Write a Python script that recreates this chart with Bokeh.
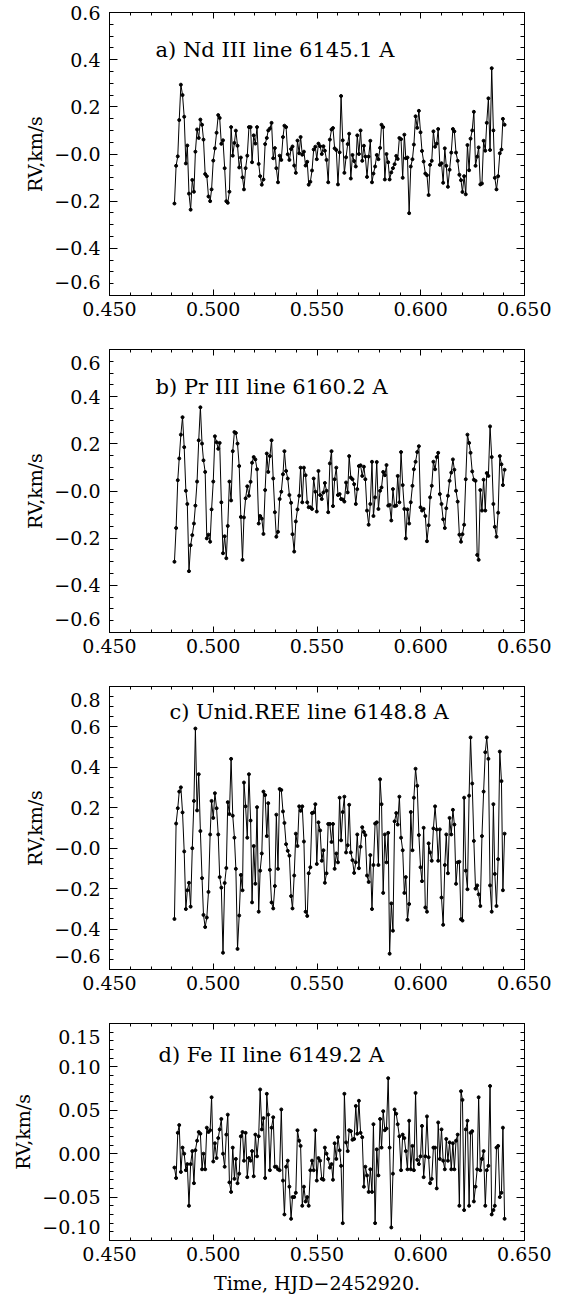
from bokeh.plotting import figure
from bokeh.models import FixedTicker, LinearAxis, CustomJSTickFormatter, Range1d, Label
from bokeh.layouts import column
from bokeh.embed import file_html
from bokeh.resources import INLINE

FONT = "DejaVu Serif"
FS = "19px"

time_hjd = [
    0.4813, 0.4821, 0.4829, 0.4836, 0.4844, 0.4852, 0.4860, 0.4868, 0.4875, 0.4883,
    0.4891, 0.4899, 0.4907, 0.4914, 0.4922, 0.4930, 0.4938, 0.4946, 0.4953, 0.4961,
    0.4969, 0.4977, 0.4985, 0.4992, 0.5000, 0.5008, 0.5016, 0.5024, 0.5031, 0.5039,
    0.5047, 0.5055, 0.5063, 0.5070, 0.5078, 0.5086, 0.5094, 0.5102, 0.5109, 0.5117,
    0.5125, 0.5133, 0.5141, 0.5148, 0.5156, 0.5164, 0.5172, 0.5180, 0.5187, 0.5195,
    0.5203, 0.5211, 0.5219, 0.5226, 0.5234, 0.5242, 0.5250, 0.5258, 0.5265, 0.5273,
    0.5281, 0.5289, 0.5297, 0.5304, 0.5312, 0.5320, 0.5328, 0.5336, 0.5343, 0.5351,
    0.5359, 0.5367, 0.5375, 0.5382, 0.5390, 0.5398, 0.5406, 0.5414, 0.5421, 0.5429,
    0.5437, 0.5445, 0.5453, 0.5460, 0.5468, 0.5476, 0.5484, 0.5492, 0.5499, 0.5507,
    0.5515, 0.5523, 0.5531, 0.5538, 0.5546, 0.5554, 0.5562, 0.5570, 0.5577, 0.5585,
    0.5593, 0.5601, 0.5609, 0.5616, 0.5624, 0.5632, 0.5640, 0.5648, 0.5655, 0.5663,
    0.5671, 0.5679, 0.5687, 0.5694, 0.5702, 0.5710, 0.5718, 0.5726, 0.5733, 0.5741,
    0.5749, 0.5757, 0.5765, 0.5772, 0.5780, 0.5788, 0.5796, 0.5804, 0.5811, 0.5819,
    0.5827, 0.5835, 0.5843, 0.5850, 0.5858, 0.5866, 0.5874, 0.5882, 0.5889, 0.5897,
    0.5905, 0.5913, 0.5921, 0.5928, 0.5936, 0.5944, 0.5952, 0.5960, 0.5967, 0.5975,
    0.5983, 0.5991, 0.5999, 0.6006, 0.6014, 0.6022, 0.6030, 0.6038, 0.6045, 0.6053,
    0.6061, 0.6069, 0.6077, 0.6084, 0.6092, 0.6100, 0.6108, 0.6116, 0.6123, 0.6131,
    0.6139, 0.6147, 0.6155, 0.6162, 0.6170, 0.6178, 0.6186, 0.6194, 0.6201, 0.6209,
    0.6217, 0.6225, 0.6233, 0.6240, 0.6248, 0.6256, 0.6264, 0.6272, 0.6279, 0.6287,
    0.6295, 0.6303, 0.6311, 0.6318, 0.6326, 0.6334, 0.6342, 0.6350, 0.6357, 0.6365,
    0.6373, 0.6381, 0.6389, 0.6396, 0.6404,
]

rv_nd3 = [
    -0.21, -0.05, -0.01, 0.144, 0.294, 0.25, 0.158, -0.04, 0.036, -0.168,
    -0.236, -0.11, -0.16, 0.01, 0.104, 0.068, 0.146, 0.124, 0.061, -0.085,
    -0.094, -0.18, -0.20, -0.15, -0.028, 0.024, 0.09, 0.165, 0.153, 0.043,
    0.058, -0.06, -0.20, -0.207, -0.16, 0.114, -0.007, 0.047, 0.099, 0.035,
    -0.057, -0.015, -0.099, -0.15, -0.06, -0.007, 0.114, 0.114, -0.035, 0.079,
    0.044, 0.114, -0.042, -0.094, -0.13, -0.108, 0.042, 0.068, 0.10, 0.108,
    0.132, -0.018, 0.025, -0.06, -0.12, -0.007, -0.025, 0.072, 0.12, 0.114,
    -0.001, -0.025, 0.021, 0.032, -0.049, -0.08, 0.057, 0.003, 0.072, -0.003,
    0.01, -0.049, -0.033, -0.13, -0.118, -0.07, 0.019, 0.031, -0.022, 0.044,
    0.033, 0.0, 0.033, 0.014, -0.025, -0.12,
    0.061, 0.104, 0.11, 0.024, 0.017, -0.129, 0.007, 0.246, 0.058, -0.08,
    -0.014, 0.042, 0.086, -0.104, -0.004, -0.03, -0.053, 0.079, 0.0, 0.1,
    -0.029, 0.035, -0.011, -0.097, -0.011, 0.056, -0.12, -0.083, -0.053, -0.004,
    -0.022, 0.026, 0.124, 0.114, -0.108, 0.0, -0.035, -0.108, -0.078, -0.06,
    -0.043, -0.008, -0.021, 0.068, 0.063, -0.101, 0.082, -0.018, -0.015, -0.251,
    -0.053, -0.022, 0.04, 0.16, 0.111, 0.183, 0.092, 0.013, -0.032, -0.083,
    -0.09, -0.174, -0.046, -0.029, 0.096, 0.031, 0.044, 0.106, -0.046, -0.039,
    -0.122, 0.024, -0.05, -0.139, -0.067, 0.006, 0.106, 0.096, 0.006, -0.029,
    -0.088, -0.111, -0.161, -0.094, -0.171, 0.038, -0.069, 0.065, 0.1, 0.179,
    -0.05, -0.011, 0.028, -0.129, -0.125, 0.056, 0.014, 0.132, 0.236, 0.017,
    0.364, 0.1, -0.101, -0.15, -0.094, 0.003, 0.019, 0.149, 0.124,
]

rv_pr3 = [
    -0.30, -0.157, 0.046, 0.138, 0.239, 0.313, 0.186, 0.001, -0.055, -0.34,
    -0.23, -0.187, -0.138, -0.062, 0.04, 0.215, 0.355, 0.201, 0.13, 0.081,
    -0.201, -0.185, -0.215, -0.078, 0.04, 0.232, 0.207, 0.179, 0.204, -0.048,
    -0.264, -0.192, -0.285, -0.148, 0.04, -0.04, 0.169, 0.25, 0.246, 0.201,
    0.106, -0.11, -0.292, -0.112, -0.031, 0.02, -0.02, 0.039, 0.12, 0.144,
    0.134, 0.092, -0.138, -0.106, -0.117, -0.182, 0.004, 0.159, 0.081, 0.148,
    0.215, 0.053, -0.09, -0.194, -0.173, -0.034, -0.003, 0.071, 0.169, 0.085,
    0.053, -0.017, -0.05, -0.183, -0.257, -0.129, -0.078, -0.02, 0.099, -0.048,
    0.099, 0.067, -0.048, -0.069, -0.069, -0.076, 0.053, -0.003, -0.087, 0.085,
    -0.017, -0.034, -0.006, 0.034, 0.001, -0.09,
    0.117, 0.169, -0.064, 0.05, 0.099, -0.017, -0.013, -0.034, -0.036, -0.045,
    0.036, -0.006, 0.148, 0.057, 0.05, 0.029, -0.055, 0.008, 0.106, 0.109,
    0.064, 0.103, 0.05, -0.083, -0.143, -0.055, 0.124, -0.106, -0.027, 0.123,
    -0.076, 0.001, 0.015, 0.081, 0.067, 0.11, -0.062, -0.059, -0.125, 0.008,
    -0.064, -0.062, 0.064, -0.048, 0.165, 0.025, -0.076, -0.201, -0.078, -0.138,
    -0.048, 0.022, 0.092, 0.124, 0.165, 0.19, -0.069, -0.083, -0.076, -0.106,
    -0.213, -0.145, -0.027, 0.022, 0.124, 0.092, 0.144, 0.162, -0.013, -0.055,
    -0.12, -0.157, -0.073, -0.02, 0.043, 0.078, 0.134, 0.09, 0.001, -0.045,
    -0.185, -0.215, -0.183, -0.143, 0.05, 0.239, 0.204, 0.162, 0.083, 0.048,
    0.043, -0.271, -0.292, 0.004, -0.083, 0.048, -0.083, 0.076, 0.064, 0.274,
    0.144, -0.055, -0.152, -0.194, -0.092, 0.148, 0.113, 0.025, 0.09,
]

rv_unid = [
    -0.35, 0.122, 0.198, 0.28, 0.301, 0.177, -0.016, -0.301, -0.208, -0.171,
    -0.289, 0.0, 0.234, 0.592, 0.187, 0.366, 0.085, -0.148, -0.33, -0.39,
    -0.343, -0.216, 0.068, 0.234, 0.15, 0.272, 0.198, 0.068, -0.143, -0.195,
    -0.517, -0.172, -0.098, 0.228, 0.169, 0.442, 0.161, 0.052, -0.102, -0.498,
    -0.333, -0.132, -0.208, 0.325, 0.207, 0.052, 0.366, 0.137, -0.268, 0.011,
    -0.176, 0.203, -0.314, -0.111, -0.026, 0.28, 0.263, 0.06, 0.223, -0.107,
    -0.268, -0.298, -0.187, 0.166, -0.102, 0.293, 0.288, 0.182, 0.125, 0.02,
    -0.013, -0.037, -0.237, -0.298, -0.135, 0.072, 0.011, 0.207, 0.185, 0.207,
    0.033, -0.314, -0.335, -0.124, -0.094, 0.174, 0.177, 0.218, -0.078, 0.128,
    0.088, -0.062, -0.01, -0.171, -0.124, 0.12,
    0.12, 0.031, 0.12, -0.102, -0.026, -0.07, 0.25, 0.039, 0.179, 0.255,
    -0.021, 0.015, 0.215, -0.021, -0.059, -0.122, -0.07, 0.068, -0.099, 0.007,
    0.104, 0.08, 0.065, -0.135, -0.167, -0.034, -0.301, -0.083, 0.122, 0.128,
    -0.083, 0.341, 0.218, -0.221, 0.068, -0.07, 0.076, -0.522, -0.273, -0.408,
    0.133, 0.174, 0.117, 0.255, 0.052, -0.01, -0.221, -0.143, -0.354, -0.276,
    0.179, -0.01, 0.25, 0.393, 0.309, 0.065, -0.094, -0.163, 0.101, -0.293,
    -0.314, 0.024, -0.021, -0.062, 0.098, 0.207, 0.093, -0.062, 0.093, -0.244,
    -0.379, -0.083, 0.068, -0.124, 0.15, 0.068, 0.19, 0.117, -0.176, -0.07,
    -0.067, -0.351, -0.358, 0.25, -0.111, -0.203, 0.26, 0.548, 0.32, 0.036,
    -0.2, -0.184, -0.228, -0.286, 0.06, 0.28, 0.475, 0.548, 0.442, -0.184,
    -0.314, 0.218, -0.127, -0.286, -0.054, 0.478, 0.332, -0.208, 0.072,
]

rv_fe2 = [
    -0.016, -0.028, 0.024, 0.033, -0.021, 0.007, 0.0, -0.019, -0.012, -0.06,
    -0.012, 0.003, -0.034, 0.004, 0.015, 0.025, 0.023, -0.018, 0.0, -0.018,
    0.03, 0.025, 0.027, 0.065, -0.009, 0.012, -0.005, 0.018, 0.028, 0.04,
    0.0, -0.015, 0.022, 0.045, -0.033, -0.044, 0.007, -0.029, -0.006, -0.034,
    -0.023, 0.02, 0.025, -0.008, 0.024, -0.027, -0.005, -0.008, 0.003, -0.026,
    0.022, -0.003, 0.02, 0.074, 0.028, 0.041, -0.028, 0.069, 0.045, -0.019,
    0.03, 0.042, -0.015, -0.015, -0.018, -0.019, 0.051, -0.031, -0.07, -0.015,
    -0.008, -0.038, -0.075, -0.05, -0.05, -0.045, 0.027, 0.015, 0.009, -0.06,
    -0.038, -0.055, -0.05, -0.06, -0.019, -0.008, -0.019, 0.027, -0.031, -0.005,
    -0.008, -0.029, -0.03, 0.007, 0.0, -0.006,
    -0.016, -0.012, -0.03, 0.012, -0.006, 0.019, 0.004, -0.014, -0.08, 0.069,
    0.013, 0.003, 0.027, 0.026, 0.016, 0.017, 0.055, 0.023, 0.061, 0.024,
    0.019, -0.038, -0.015, -0.025, -0.044, -0.018, -0.044, 0.034, -0.08, 0.005,
    -0.025, 0.04, 0.007, 0.049, 0.027, 0.029, 0.087, 0.007, -0.085, -0.023,
    0.051, 0.046, 0.034, 0.02, -0.019, 0.022, 0.018, 0.003, -0.018, 0.038,
    -0.018, 0.009, -0.019, 0.07, -0.007, -0.012, -0.003, 0.032, -0.027, -0.003,
    0.043, -0.004, -0.034, -0.029, 0.007, 0.007, -0.04, 0.036, -0.006, 0.028,
    -0.008, -0.018, 0.017, -0.008, 0.013, -0.018, 0.012, -0.018, 0.015, 0.022,
    -0.06, 0.072, 0.062, -0.065, 0.028, 0.038, -0.06, 0.024, 0.026, -0.055,
    -0.038, -0.018, 0.065, -0.019, -0.006, 0.003, -0.06, -0.019, -0.014, 0.078,
    -0.07, -0.065, -0.06, 0.007, 0.009, -0.05, -0.045, 0.03, -0.075,
]

titles = [
    "a) Nd III line 6145.1 A",
    "b) Pr III line 6160.2 A",
    "c) Unid.REE line 6148.8 A",
    "d) Fe II line 6149.2 A",
]

x_ticks = [0.45, 0.50, 0.55, 0.60, 0.65]
x_minor = [0.46, 0.47, 0.48, 0.49, 0.51, 0.52, 0.53, 0.54, 0.56, 0.57,
           0.58, 0.59, 0.61, 0.62, 0.63, 0.64]

y_ticks_ab = [-0.6, -0.4, -0.2, 0.0, 0.2, 0.4, 0.6]
y_minor_ab = [-0.55, -0.5, -0.45, -0.35, -0.3, -0.25, -0.15, -0.1, -0.05,
              0.05, 0.1, 0.15, 0.25, 0.3, 0.35, 0.45, 0.5, 0.55]
y_ticks_c = [-0.6, -0.4, -0.2, 0.0, 0.2, 0.4, 0.6, 0.8]
y_minor_c = y_minor_ab + [0.65, 0.7, 0.75]
y_ticks_d = [-0.10, -0.05, 0.0, 0.05, 0.10, 0.15]
y_minor_d = [-0.09, -0.08, -0.07, -0.06, -0.04, -0.03, -0.02, -0.01,
             0.01, 0.02, 0.03, 0.04, 0.06, 0.07, 0.08, 0.09,
             0.11, 0.12, 0.13, 0.14]

FMT_X = "return tick.toFixed(3);"
# end labels are pushed half a line inside the frame (as in the original) with an empty line
FMT_Y = ("const s = (tick < negz ? '\u2212' : '') + Math.abs(tick).toFixed(dec);"
         "if (toppad && Math.abs(tick - hi) < 1e-9) return '\\n' + s;"
         "if (Math.abs(tick - lo) < 1e-9) return s + '\\n';"
         "return s;")
FMT_NONE = "return '';"


def style_axis(ax, ticks, minor, labels, major_len, minor_len, formatter=None):
    ax.ticker = FixedTicker(ticks=ticks, minor_ticks=minor)
    ax.major_tick_in = major_len
    ax.major_tick_out = 0
    ax.minor_tick_in = minor_len
    ax.minor_tick_out = 0
    ax.axis_line_color = "black"
    ax.major_tick_line_color = "black"
    ax.minor_tick_line_color = "black"
    ax.major_label_text_font = FONT
    ax.major_label_text_color = "black"
    if labels:
        ax.formatter = formatter
        ax.major_label_text_font_size = FS
    else:
        ax.formatter = CustomJSTickFormatter(code=FMT_NONE)
        ax.major_label_text_font_size = "0px"
        ax.major_label_standoff = 0


def panel(y, yrange, yt, ym, dec, negz, title, tx, ty, top, frame_h, bottom,
          toppad=True, xlabel=None):
    lo, hi = yrange
    p = figure(width=551, height=top + frame_h + bottom,
               x_range=Range1d(0.45, 0.65), y_range=Range1d(lo, hi),
               output_backend="svg", toolbar_location=None,
               min_border_left=109, min_border_right=27,
               min_border_top=top, min_border_bottom=bottom)
    p.xgrid.visible = False
    p.ygrid.visible = False
    p.outline_line_color = "black"
    p.background_fill_color = "white"
    p.border_fill_color = "white"

    xa = p.xaxis[0]
    style_axis(xa, x_ticks, x_minor, True, 6, 3, CustomJSTickFormatter(code=FMT_X))
    xa.major_label_standoff = 6
    if xlabel:
        xa.axis_label = xlabel
        xa.axis_label_text_font = FONT
        xa.axis_label_text_font_size = FS
        xa.axis_label_text_font_style = "normal"
        xa.axis_label_text_color = "black"
        xa.axis_label_standoff = 8

    ya = p.yaxis[0]
    yfmt = CustomJSTickFormatter(
        args=dict(lo=lo, hi=hi, dec=dec, negz=negz, toppad=toppad), code=FMT_Y)
    style_axis(ya, yt, ym, True, 8, 4, yfmt)
    ya.major_label_standoff = 9
    ya.axis_label = "RV,km/s"
    ya.axis_label_text_font = FONT
    ya.axis_label_text_font_size = FS
    ya.axis_label_text_font_style = "normal"
    ya.axis_label_text_color = "black"
    ya.axis_label_standoff = 5

    top_ax = LinearAxis()
    style_axis(top_ax, x_ticks, x_minor, False, 6, 3)
    p.add_layout(top_ax, "above")
    right_ax = LinearAxis()
    style_axis(right_ax, yt, ym, False, 8, 4)
    p.add_layout(right_ax, "right")

    p.line(time_hjd, y, line_color="black", line_width=1)
    p.scatter(time_hjd, y, size=3, color="black")

    p.add_layout(Label(x=tx, y=ty, text=title, text_font=FONT,
                       text_font_size="21px", text_baseline="middle",
                       text_color="black"))
    return p


pa = panel(rv_nd3, (-0.6, 0.6), y_ticks_ab, y_minor_ab, 1, 1e-9, titles[0],
           0.4722, 0.44, 12, 283, 30, toppad=False)
pb = panel(rv_pr3, (-0.6, 0.6), y_ticks_ab, y_minor_ab, 1, 1e-9, titles[1],
           0.4722, 0.44, 24, 283, 30)
pc = panel(rv_unid, (-0.6, 0.8), y_ticks_c, y_minor_c, 1, 1e-9, titles[2],
           0.4789, 0.676, 24, 283, 30)
pd = panel(rv_fe2, (-0.10, 0.15), y_ticks_d, y_minor_d, 2, -1e-9, titles[3],
           0.4736, 0.114, 24, 217, 58, xlabel="Time, HJD\u22122452920.")

layout = column(pa, pb, pc, pd, spacing=0)
open("out.html", "w").write(file_html(layout, INLINE))
